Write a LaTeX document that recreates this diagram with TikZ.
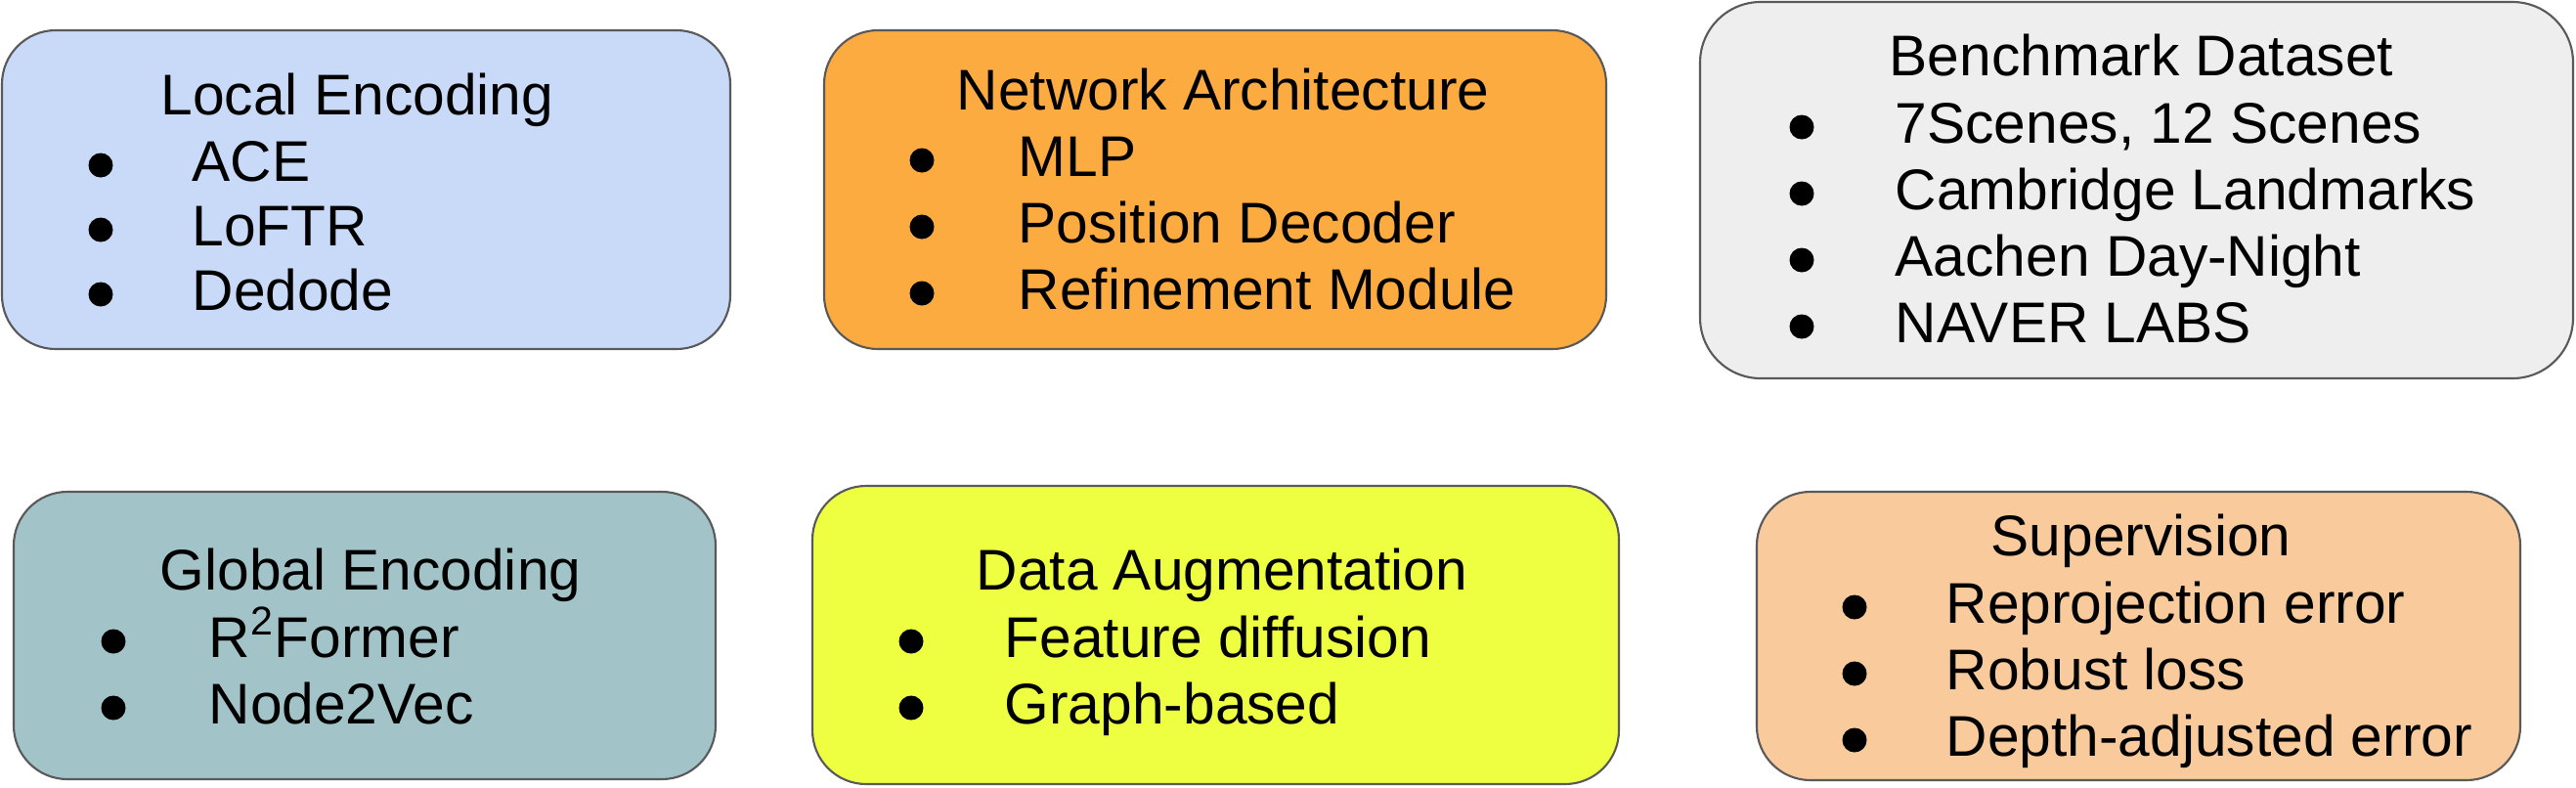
\documentclass[tikz,border=0pt]{standalone}
\usepackage{fontspec}
\setmainfont{Liberation Sans}
\usepackage{tikz}
\usetikzlibrary{positioning}

\definecolor{localcol}{HTML}{C9DAF8}
\definecolor{archcol}{HTML}{FCAB41}
\definecolor{benchcol}{HTML}{EEEEEE}
\definecolor{globalcol}{HTML}{A2C4C9}
\definecolor{augcol}{HTML}{EEFF41}
\definecolor{supcol}{HTML}{F9CB9C}
\definecolor{edgecol}{HTML}{595959}

\begin{document}
\begin{tikzpicture}[
            box/.style={draw=edgecol,line width=0.6pt,rounded corners=0.55cm,inner sep=0pt},
            ele/.style={circle,fill=black,minimum size=0.25cm,inner sep=0pt},
            txt/.style={anchor=base west,inner sep=0pt,font=\fontsize{16.7}{20}\selectfont}
        ]
            \useasboundingbox (0,0) rectangle (26.35,-8.05);

            % boxes
            \node[box,fill=localcol,minimum width=7.45cm,minimum height=3.26cm]  (le) at (3.745,-1.94) {};
            \node[box,fill=archcol,minimum width=8cm,minimum height=3.26cm]      (na) at (12.43,-1.94) {};
            \node[box,fill=benchcol,minimum width=8.93cm,minimum height=3.85cm,rounded corners=0.62cm] (bd) at (21.855,-1.945) {};
            \node[box,fill=globalcol,minimum width=7.18cm,minimum height=2.94cm] (ge) at (3.73,-6.5) {};
            \node[box,fill=augcol,minimum width=8.25cm,minimum height=3.05cm]    (da) at (12.435,-6.495) {};
            \node[box,fill=supcol,minimum width=7.81cm,minimum height=2.95cm]    (sv) at (21.875,-6.505) {};

            % local encoding
            \node[txt] (le0) at (1.64,-1.17) {Local Encoding};
            \node[ele] (le1b) at (1.03,-1.69) {};
            \node[txt] (le1) at (1.96,-1.85) {ACE};
            \node[ele] (le2b) at (1.03,-2.35) {};
            \node[txt] (le2) at (1.96,-2.51) {LoFTR};
            \node[ele] (le3b) at (1.03,-3.01) {};
            \node[txt] (le3) at (1.96,-3.17) {Dedode};

            % network architecture
            \node[txt] (na0) at (9.78,-1.12) {Network Architecture};
            \node[ele] (na1b) at (9.43,-1.64) {};
            \node[txt] (na1) at (10.41,-1.80) {MLP};
            \node[ele] (na2b) at (9.43,-2.32) {};
            \node[txt] (na2) at (10.41,-2.48) {Position Decoder};
            \node[ele] (na3b) at (9.43,-3.00) {};
            \node[txt] (na3) at (10.41,-3.16) {Refinement Module};

            % benchmark dataset
            \node[txt] (bd0) at (19.32,-0.77) {Benchmark Dataset};
            \node[ele] (bd1b) at (18.43,-1.30) {};
            \node[txt] (bd1) at (19.38,-1.46) {7Scenes, 12 Scenes};
            \node[ele] (bd2b) at (18.43,-1.98) {};
            \node[txt] (bd2) at (19.38,-2.14) {Cambridge Landmarks};
            \node[ele] (bd3b) at (18.43,-2.66) {};
            \node[txt] (bd3) at (19.38,-2.82) {Aachen Day-Night};
            \node[ele] (bd4b) at (18.43,-3.34) {};
            \node[txt] (bd4) at (19.38,-3.50) {NAVER LABS};

            % global encoding
            \node[txt] (ge0) at (1.63,-6.03) {Global Encoding};
            \node[ele] (ge1b) at (1.16,-6.56) {};
            \node[txt] (ge1) at (2.13,-6.72) {R\textsuperscript{2}Former};
            \node[ele] (ge2b) at (1.16,-7.24) {};
            \node[txt] (ge2) at (2.13,-7.40) {Node2Vec};

            % data augmentation
            \node[txt] (da0) at (9.98,-6.03) {Data Augmentation};
            \node[ele] (da1b) at (9.32,-6.56) {};
            \node[txt] (da1) at (10.27,-6.72) {Feature diffusion};
            \node[ele] (da2b) at (9.32,-7.24) {};
            \node[txt] (da2) at (10.27,-7.40) {Graph-based};

            % supervision
            \node[txt] (sv0) at (20.36,-5.68) {Supervision};
            \node[ele] (sv1b) at (18.97,-6.21) {};
            \node[txt] (sv1) at (19.90,-6.37) {Reprojection error};
            \node[ele] (sv2b) at (18.97,-6.89) {};
            \node[txt] (sv2) at (19.90,-7.05) {Robust loss};
            \node[ele] (sv3b) at (18.97,-7.57) {};
            \node[txt] (sv3) at (19.90,-7.73) {Depth-adjusted error};
        \end{tikzpicture}
\end{document}
